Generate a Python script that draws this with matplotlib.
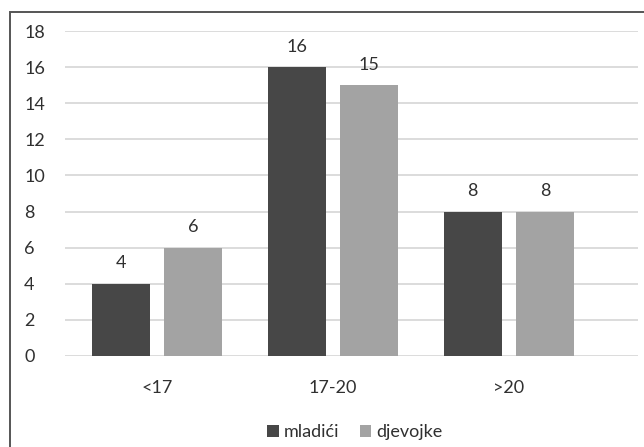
import matplotlib.pyplot as plt
import numpy as np
from matplotlib.patches import Rectangle

# Chart data
categories = ["<17", "17-20", ">20"]
mladici = [4, 16, 8]
djevojke = [6, 15, 8]
yticks = [0, 2, 4, 6, 8, 10, 12, 14, 16, 18]

DARK = "#474747"
LIGHT = "#a3a3a3"
GRID = "#d9d9d9"
TXT = "#303030"
W, H = 644, 447

plt.rcParams["font.family"] = ["Lato", "DejaVu Sans"]

fig = plt.figure(figsize=(W / 100, H / 100), dpi=100)
fig.patch.set_facecolor("white")

# outer chart border (left and top visible, cut off right/bottom)
fig.patches.append(Rectangle((10 / W, -0.05), 1.2, 1 - 12 / H + 0.05,
                             transform=fig.transFigure, fill=False,
                             edgecolor="#555555", lw=1.4))

# plot area in pixels
left, right, top, bottom = 65, 638, 31, 356
ax = fig.add_axes([left / W, 1 - bottom / H, (right - left) / W, (bottom - top) / H])

x = np.arange(len(categories))
bw = 0.33
off = 0.206
b1 = ax.bar(x - off, mladici, bw, color=DARK, label="mladići", zorder=3)
b2 = ax.bar(x + off, djevojke, bw, color=LIGHT, label="djevojke", zorder=3)

for bars, vals in ((b1, mladici), (b2, djevojke)):
    for rect, v in zip(bars, vals):
        ax.annotate(str(v), (rect.get_x() + rect.get_width() / 2, v),
                    xytext=(0, 9), textcoords="offset points",
                    ha="center", va="bottom", fontsize=13, color=TXT)

ax.set_xlim(-0.523, 2.733)
ax.set_ylim(0, 18)
ax.set_yticks(yticks)
ax.set_xticks(x)
ax.set_xticklabels(categories)
ax.yaxis.grid(True, color=GRID, lw=1.3, zorder=0)
ax.set_axisbelow(True)
for s in ax.spines.values():
    s.set_visible(False)
ax.tick_params(length=0, labelsize=13, labelcolor=TXT)
ax.tick_params(axis="x", pad=17)
ax.tick_params(axis="y", pad=29.5)
for lbl in ax.get_yticklabels():
    lbl.set_horizontalalignment("left")

fig.legend(loc="center", bbox_to_anchor=(355 / W, 1 - 432 / H), ncol=2,
           frameon=False, fontsize=13, handlelength=0.65, handleheight=0.65,
           handletextpad=0.3, columnspacing=1.1, labelcolor=TXT)

fig.savefig("out.png", dpi=100)
